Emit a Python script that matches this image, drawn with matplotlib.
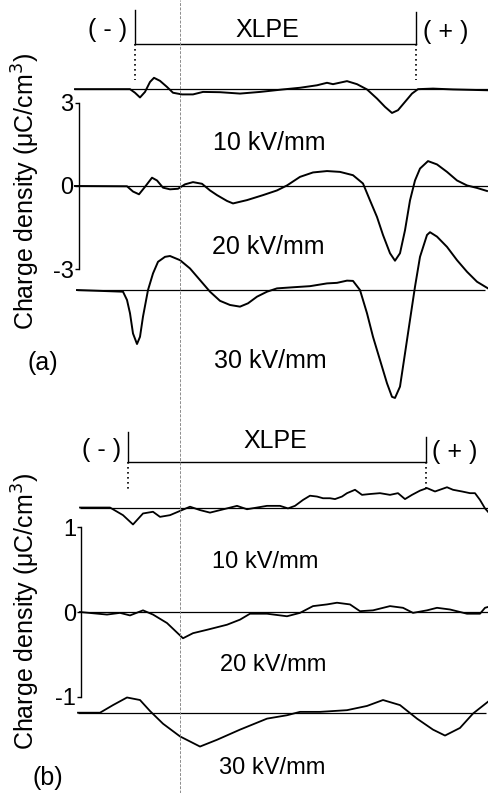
import matplotlib
matplotlib.use("Agg")
import matplotlib.pyplot as plt
from matplotlib.lines import Line2D
import numpy as np

plt.rcParams['font.family'] = ['Liberation Sans', 'DejaVu Sans']
plt.rcParams['axes.unicode_minus'] = False

# ---------------- data (position in arbitrary units, charge density in uC/cm^3) -------------
# Panel (a) -- values relative to each trace's own baseline
a10_x = [75, 130, 135, 140, 145, 150, 154, 160, 167, 173, 182, 193, 203, 220, 240, 260, 283, 300,
         317, 327, 333, 347, 357, 367, 377, 385, 392, 398, 405, 412, 418, 433, 453, 488]
a10_y = [0, 0, -0.13, -0.30, -0.10, 0.26, 0.41, 0.30, 0.08, -0.13, -0.19, -0.19, -0.10, -0.11, -0.16,
         -0.10, -0.01, 0.05, 0.14, 0.23, 0.18, 0.29, 0.18, -0.01, -0.34, -0.64, -0.86, -0.76, -0.46,
         -0.16, 0.0, 0.02, -0.01, -0.04]

a20_x = [75, 127, 133, 139, 145, 152, 157, 163, 170, 178, 185, 193, 202, 210, 217, 227, 233, 247,
         263, 277, 287, 300, 313, 327, 340, 353, 363, 370, 377, 383, 390, 395, 400, 405, 410, 415,
         420, 428, 437, 447, 457, 467, 477, 487]
a20_y = [0, -0.01, -0.20, -0.30, -0.03, 0.30, 0.20, -0.06, -0.12, -0.10, 0.06, 0.14, 0.08, -0.16,
         -0.33, -0.54, -0.63, -0.51, -0.33, -0.16, 0.02, 0.33, 0.49, 0.54, 0.51, 0.39, 0.09, -0.52,
         -1.12, -1.77, -2.43, -2.70, -2.43, -1.60, -0.52, 0.20, 0.63, 0.90, 0.78, 0.51, 0.20, 0.02,
         -0.07, -0.18]

a30_x = [77, 123, 127, 130, 133, 137, 140, 143, 148, 153, 158, 165, 170, 180, 190, 200, 210, 220,
         230, 240, 248, 257, 267, 277, 293, 310, 327, 337, 347, 353, 360, 367, 373, 380, 387, 392,
         395, 400, 405, 410, 415, 420, 427, 430, 437, 447, 457, 467, 477, 488]
a30_y = [0, -0.06, -0.36, -0.84, -1.57, -1.95, -1.69, -0.96, 0.0, 0.60, 1.02, 1.20, 1.23, 1.08, 0.78,
         0.36, -0.06, -0.39, -0.54, -0.60, -0.48, -0.24, -0.06, 0.06, 0.10, 0.14, 0.24, 0.26, 0.34,
         0.33, 0.0, -0.84, -1.69, -2.53, -3.37, -3.86, -3.90, -3.49, -2.29, -1.08, 0.12, 1.20, 1.99,
         2.09, 1.93, 1.56, 1.08, 0.66, 0.30, 0.06]

a_offsets = [3.5, 0.0, -3.76]
a_labels = ["10 kV/mm", "20 kV/mm", "30 kV/mm"]
a_electrodes = [135, 416.5]

# Panel (b)
b10_x = [80, 110, 123, 133, 143, 153, 160, 170, 180, 190, 200, 210, 227, 237, 247, 267, 280, 288,
         295, 303, 310, 317, 323, 330, 335, 342, 347, 355, 362, 370, 380, 390, 398, 405, 412, 420,
         427, 435, 447, 453, 462, 470, 475, 480, 485, 488]
b10_y = [0, 0, -0.09, -0.20, -0.07, -0.05, -0.11, -0.09, -0.04, 0.01, -0.03, -0.06, -0.01, 0.02,
         -0.02, 0.02, 0.02, -0.01, 0.02, 0.09, 0.14, 0.13, 0.11, 0.11, 0.10, 0.13, 0.17, 0.21, 0.15,
         0.16, 0.17, 0.15, 0.17, 0.10, 0.15, 0.20, 0.23, 0.19, 0.24, 0.21, 0.19, 0.17, 0.17, 0.09,
         -0.01, -0.05]

b20_x = [80, 107, 120, 130, 143, 153, 167, 183, 193, 207, 227, 240, 250, 267, 287, 300, 313, 327,
         337, 350, 360, 373, 390, 403, 413, 427, 437, 450, 467, 480, 485, 488]
b20_y = [0, -0.03, -0.01, -0.04, 0.02, -0.03, -0.13, -0.31, -0.25, -0.21, -0.15, -0.09, -0.02, -0.02,
         -0.05, -0.01, 0.07, 0.09, 0.11, 0.09, 0.01, 0.02, 0.07, 0.05, -0.01, 0.02, 0.05, 0.03, -0.02,
         -0.02, 0.05, 0.06]

b30_x = [78, 100, 113, 127, 140, 150, 163, 180, 200, 217, 240, 267, 287, 300, 320, 347, 367, 383,
         400, 417, 433, 445, 460, 473, 488]
b30_y = [0, 0, 0.09, 0.18, 0.15, 0.02, -0.13, -0.28, -0.40, -0.32, -0.20, -0.07, -0.03, 0.01, 0.01,
         0.03, 0.08, 0.15, 0.09, -0.07, -0.20, -0.27, -0.18, -0.01, 0.13]

b_offsets = [1.235, 0.0, -1.19]
b_labels = ["10 kV/mm", "20 kV/mm", "30 kV/mm"]
b_electrodes = [128.5, 426]

# ---------------- figure -------------
W, H = 489, 793
fig = plt.figure(figsize=(W / 100, H / 100), dpi=100)
fig.patch.set_facecolor('white')

axA = fig.add_axes([75 / W, 1 - 400 / H, 414 / W, 400 / H])
axB = fig.add_axes([75 / W, 0, 414 / W, 383 / H])

FS = 18
LW = 1.4


def style_axis(ax, ylim, spine_x, ticks, ticklabels):
    ax.set_xlim(75, 489)
    ax.set_ylim(*ylim)
    ax.patch.set_alpha(0)
    for s in ['top', 'right', 'bottom']:
        ax.spines[s].set_visible(False)
    ax.spines['left'].set_position(('data', spine_x))
    ax.spines['left'].set_bounds(ticks[0], ticks[-1])
    ax.spines['left'].set_linewidth(1.0)
    ax.set_xticks([])
    ax.set_yticks(ticks)
    ax.set_yticklabels(ticklabels, fontsize=FS - 1)
    ax.tick_params(axis='y', direction='out', length=3, width=1, pad=1)


style_axis(axA, (-7.734, 6.722), 79, [-3, 0, 3], ["-3", "0", "3"])
style_axis(axB, (-2.139, 2.388), 81.5, [-1, 0, 1], ["-1", "0", "1"])

# baselines
a_base_ext = [(73, 489), (79, 489), (77, 485)]
b_base_ext = [(80, 488), (81.5, 488), (78, 486)]
for off, (x0, x1) in zip(a_offsets, a_base_ext):
    axA.hlines(off, x0, x1, color='black', lw=0.9)
for off, (x0, x1) in zip(b_offsets, b_base_ext):
    axB.hlines(off, x0, x1, color='black', lw=0.9)

# traces
for xs, ys, off in zip([a10_x, a20_x, a30_x], [a10_y, a20_y, a30_y], a_offsets):
    axA.plot(xs, np.array(ys) + off, color='black', lw=LW, clip_on=False)
for xs, ys, off in zip([b10_x, b20_x, b30_x], [b10_y, b20_y, b30_y], b_offsets):
    axB.plot(xs, np.array(ys) + off, color='black', lw=LW - 0.1, clip_on=False)


# electrode brackets
def bracket(ax, ex, y_bar, y_top_l, y_top_r, y_dot, text_y, xlpe_x, xlpe_y, minus_x, plus_x, plus_y):
    ax.plot([ex[0], ex[0]], [y_bar, y_top_l], color='black', lw=1.0)
    ax.plot([ex[1], ex[1]], [y_bar, y_top_r], color='black', lw=1.0)
    ax.plot(ex, [y_bar, y_bar], color='black', lw=1.0)
    for e in ex:
        ax.plot([e, e], [y_bar, y_dot], color='black', lw=1.2, ls=(0, (1, 2)))
    ax.text(xlpe_x, xlpe_y, "XLPE", fontsize=FS, ha='center', va='center')
    ax.text(minus_x, text_y, "( - )", fontsize=FS, ha='center', va='center')
    ax.text(plus_x, plus_y, "( + )", fontsize=FS, ha='center', va='center')


bracket(axA, a_electrodes, 5.13, 6.36, 6.29, 3.83, 5.64, 267, 5.64, 108, 446, 5.57)
bracket(axB, b_electrodes, 1.773, 2.128, 2.07, 1.442, 1.915, 275, 2.02, 102, 455, 1.89)

# field labels
for lbl, (x, y) in zip(a_labels, [(269, 1.55), (268, -2.20), (270, -6.32)]):
    axA.text(x, y, lbl, fontsize=FS, ha='center', va='center')
for lbl, (x, y) in zip(b_labels, [(265, 0.59), (273, -0.63), (272, -1.84)]):
    axB.text(x, y, lbl, fontsize=FS - 1, ha='center', va='center')

# panel tags and y labels
fig.text(43 / W, 1 - 363 / H, "(a)", fontsize=FS, ha='center', va='center')
fig.text(48 / W, 1 - 778 / H, "(b)", fontsize=FS, ha='center', va='center')
ylab = "Charge density (\u03bcC/cm$^3$)"
fig.text(26 / W, 1 - 191 / H, ylab, fontsize=FS, rotation=90, ha='center', va='center')
fig.text(26 / W, 1 - 611 / H, ylab, fontsize=FS, rotation=90, ha='center', va='center')

# vertical reference line through both panels
fig.add_artist(Line2D([180 / W, 180 / W], [0, 1], transform=fig.transFigure,
                      color='0.55', lw=0.7, ls=(0, (3, 1.5))))

fig.savefig("out.png", dpi=100, facecolor='white')
